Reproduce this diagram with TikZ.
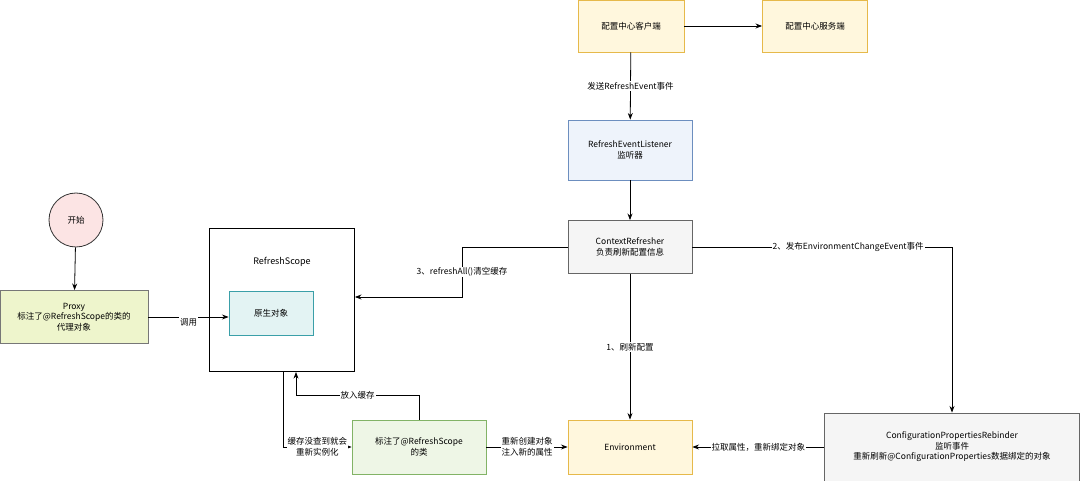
\documentclass[tikz,border=0pt]{standalone}
\usepackage{fontspec}
\setmainfont{Noto Sans CJK SC}
\usetikzlibrary{positioning,calc,arrows.meta}
\definecolor{ylwfill}{HTML}{FFF7DD}
\definecolor{ylwdraw}{HTML}{E6B94A}
\definecolor{bluedraw}{HTML}{6C8EBF}
\definecolor{bluefill}{HTML}{EEF3FB}
\definecolor{greyfill}{HTML}{F5F5F5}
\definecolor{greydraw}{HTML}{666666}
\definecolor{limefill}{HTML}{EEF5CC}
\definecolor{limedraw}{HTML}{777777}
\definecolor{grnfill}{HTML}{EEF6E6}
\definecolor{grndraw}{HTML}{82B366}
\definecolor{cyanfill}{HTML}{E3F3F3}
\definecolor{cyandraw}{HTML}{3A9FA8}
\definecolor{pinkfill}{HTML}{FCE4E4}
\tikzstyle{arrow} = [thick,->,>=Stealth]
\tikzset{
  box/.style={draw,thick,align=center,font=\fontsize{8.5}{10.5}\selectfont,inner sep=2pt},
  lbl/.style={fill=white,align=center,font=\fontsize{8.5}{10.5}\selectfont,inner sep=1pt},
}
\begin{document}
\begin{tikzpicture}[x=1pt,y=-1pt,line width=0.8pt,>=Stealth]
    \useasboundingbox (0,0) rectangle (1080,481);
    % nodes
    \node[box,fill=ylwfill,draw=ylwdraw,minimum width=106,minimum height=52] (client) at (631,26) {配置中心客户端};
    \node[box,fill=ylwfill,draw=ylwdraw,minimum width=105,minimum height=52] (server) at (815,26) {配置中心服务端};
    \node[box,fill=bluefill,draw=bluedraw,minimum width=124,minimum height=60] (listener) at (630,150) {RefreshEventListener\\监听器};
    \node[box,fill=greyfill,draw=greydraw,minimum width=124,minimum height=53] (refresher) at (630,247) {ContextRefresher\\负责刷新配置信息};
    \node[box,circle,fill=pinkfill,draw=black!80,minimum size=54] (start) at (76,220) {开始};
    \node[box,fill=limefill,draw=limedraw,minimum width=148,minimum height=53] (proxy) at (74,317) {Proxy\\标注了@RefreshScope的类的\\代理对象};
    \node[box,draw=black,minimum width=145,minimum height=143] (scope) at (282,300) {};
    \node[font=\fontsize{9}{10}\selectfont] (scopetitle) at (282,262) {RefreshScope};
    \node[box,fill=cyanfill,draw=cyandraw,minimum width=84,minimum height=44] (raw) at (271,313) {原生对象};
    \node[box,fill=grnfill,draw=grndraw,minimum width=134,minimum height=54] (cls) at (419,447) {标注了@RefreshScope\\的类};
    \node[box,fill=ylwfill,draw=ylwdraw,minimum width=124,minimum height=54] (env) at (630,447) {Environment};
    \node[box,fill=greyfill,draw=greydraw,minimum width=255,minimum height=68] (rebinder) at (952,447) {ConfigurationPropertiesRebinder\\监听事件\\重新刷新@ConfigurationProperties数据绑定的对象};
    \coordinate (bend3) at (462,297);
    % connectors
    \draw[->] (client) -- (server);
    \draw[->] (client) -- node[lbl] {发送RefreshEvent事件} (listener);
    \draw[->] (listener) -- (refresher);
    \draw[->] (start) -- (proxy);
    \draw[->] (proxy.east) -- node[lbl,pos=0.5,yshift=-5] {调用} (raw.west |- proxy.east);
    \draw[->] (refresher.west) -| (bend3) node[lbl,pos=0.75] {3、refreshAll()清空缓存} -- (scope.east |- bend3);
    \draw[->] (refresher.east) -| node[lbl,pos=0.3] {2、发布EnvironmentChangeEvent事件} (rebinder.north);
    \draw[->] (refresher) -- node[lbl] {1、刷新配置} (env);
    \draw[->] (rebinder.west) -- node[lbl] {拉取属性，重新绑定对象} (env.east);
    \draw[->] (cls.east) -- node[lbl] {重新创建对象\\注入新的属性} (env.west);
    \draw[->] (cls.north) |- node[lbl,pos=0.75] {放入缓存} (296,395) -- (296,372);
    \draw[->] (283,372) |- node[lbl,pos=0.75] {缓存没查到就会\\重新实例化} (cls.west);
\end{tikzpicture}
\end{document}
